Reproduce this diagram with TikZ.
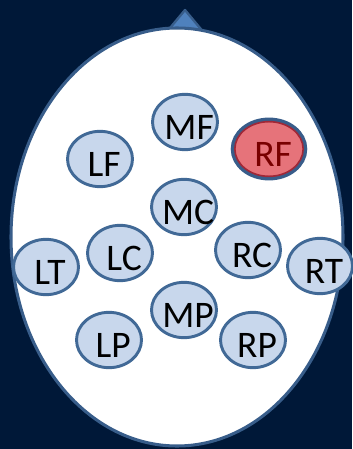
\documentclass[tikz,border=0pt]{standalone}
\usepackage{fontspec}
\setmainfont{Carlito}
\usetikzlibrary{shapes.geometric}
\definecolor{navy}{RGB}{0,24,56}
\definecolor{rimblue}{RGB}{56,93,138}
\definecolor{noseblue}{RGB}{79,129,189}
\definecolor{padfill}{RGB}{200,215,236}
\definecolor{padline}{RGB}{65,105,150}
\definecolor{selfill}{RGB}{230,115,122}
\definecolor{selline}{RGB}{160,40,55}
\definecolor{seltext}{RGB}{120,0,0}
\tikzset{
  head/.style={fill=white, draw=rimblue, line width=2.6pt},
  nose/.style={fill=noseblue, draw=rimblue, line width=2pt, line join=round},
  % labels sit a little low and right inside each pad
  elec/.style={ellipse, fill=padfill, draw=padline, line width=2.5pt,
    minimum width=19.5mm, minimum height=16.6mm, inner xsep=-14pt, inner ysep=0pt,
    text height=30pt, text depth=0pt,
    execute at begin node={\hspace*{7pt}},
    font=\fontsize{32}{34}\selectfont},
  elecsel/.style={elec, fill=selfill, draw=selline, line width=1.4pt,
    minimum width=20.5mm, minimum height=16.4mm, text=seltext,
    preaction={draw=rimblue, line width=7pt}},
}
\begin{document}
\begin{tikzpicture}[x=0.3mm, y=-0.3mm]
  \fill[navy] (0,0) rectangle (352,449);
  \useasboundingbox (0,0) rectangle (352,449);
  % head outline with the nose on top
  \draw[nose] (185,10) -- (160,40) -- (210,40) -- cycle;
  \draw[head] (177,237) ellipse (166 and 209);
  % frontal row
  \node[elec] (mf) at (185,122) {MF};
  \node[elecsel] (rf) at (269,149) {RF};
  \node[elec] (lf) at (100,159) {LF};
  % central row
  \node[elec] (mc) at (184,207) {MC};
  \node[elec] (lc) at (120,253) {LC};
  \node[elec] (rc) at (248,250) {RC};
  \node[elec] (lt) at (46,267) {LT};
  \node[elec] (rt) at (320,266) {RT};
  % parietal row
  \node[elec] (mp) at (184,310) {MP};
  \node[elec] (lp) at (109,340) {LP};
  \node[elec] (rp) at (253,340) {RP};
\end{tikzpicture}
\end{document}
